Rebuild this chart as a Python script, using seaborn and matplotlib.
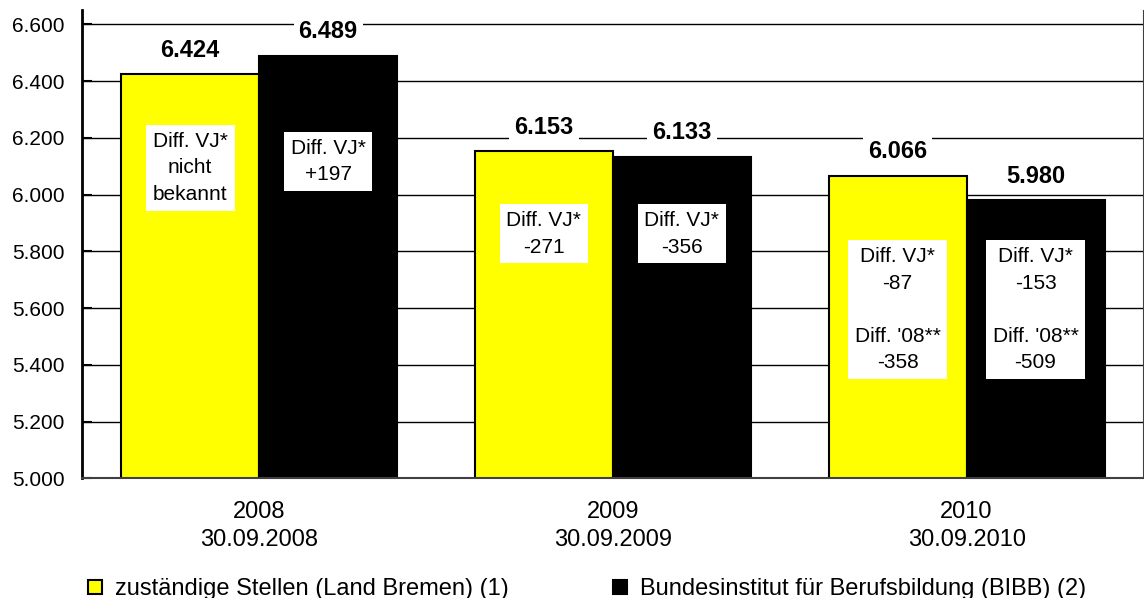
import pandas as pd
import matplotlib
matplotlib.use('Agg')
import matplotlib.pyplot as plt
from matplotlib.lines import Line2D
import seaborn as sns

years = ['2008\n30.09.2008', '2009\n30.09.2009', '2010\n30.09.2010']
sources = ['zuständige Stellen (Land Bremen) (1)', 'Bundesinstitut für Berufsbildung (BIBB) (2)']
stellen = [6424, 6153, 6066]
bibb = [6489, 6133, 5980]
notes_stellen = ['Diff. VJ*\nnicht\nbekannt', 'Diff. VJ*\n-271', "Diff. VJ*\n-87\n\nDiff. '08**\n-358"]
notes_bibb = ['Diff. VJ*\n+197', 'Diff. VJ*\n-356', "Diff. VJ*\n-153\n\nDiff. '08**\n-509"]
note_y = [[6094, 5862, 5594], [6117, 5862, 5594]]
colors = ['#FFFF00', '#000000']

df = pd.DataFrame({
    'Jahr': years * 2,
    'Quelle': [sources[0]] * 3 + [sources[1]] * 3,
    'Wert': stellen + bibb,
})

sns.set_style('white')
plt.rcParams['font.family'] = ['Liberation Sans', 'DejaVu Sans']
plt.rcParams['text.color'] = 'black'
plt.rcParams['xtick.color'] = 'black'
plt.rcParams['ytick.color'] = 'black'

fig, ax = plt.subplots(figsize=(11.44, 5.98), dpi=100)
fig.subplots_adjust(left=0.072, right=0.9995, top=0.983, bottom=0.2)

sns.barplot(data=df, x='Jahr', y='Wert', hue='Quelle', palette=colors, saturation=1,
            edgecolor='black', linewidth=1.5, width=0.78, ax=ax, legend=False, zorder=2)

ax.set_ylim(5000, 6650)
ax.set_xlim(-0.5, 2.5)
ax.set_yticks(range(5000, 6601, 200))
ax.set_yticklabels([f'{v:,}'.replace(',', '.') for v in range(5000, 6601, 200)], fontsize=15)
ax.tick_params(axis='x', labelsize=17, length=0, pad=16, labelcolor='black')
ax.tick_params(axis='y', length=7, width=1.5, color='black', direction='in', left=True, pad=13,
               labelcolor='black')
for lab in ax.get_xticklabels():
    lab.set_linespacing(1.4)
ax.yaxis.grid(True, color='black', linewidth=1, zorder=0)
ax.set_axisbelow(True)
ax.set_xlabel('')
ax.set_ylabel('')
ax.spines['top'].set_visible(False)
ax.spines['left'].set_linewidth(2)
ax.spines['left'].set_color('black')
ax.spines['bottom'].set_color('#404040')
ax.spines['bottom'].set_linewidth(1.5)
ax.spines['right'].set_color('#404040')

# Werte und Differenzen
for bars, vals, notes, ny in zip(ax.containers, [stellen, bibb], [notes_stellen, notes_bibb], note_y):
    for bar, v, note, y in zip(bars, vals, notes, ny):
        cx = bar.get_x() + bar.get_width() / 2
        ax.annotate(f'{v:,}'.replace(',', '.'), (cx, v), xytext=(0, 9), textcoords='offset points',
                    ha='center', va='bottom', fontsize=17, fontweight='bold', color='black', zorder=3,
                    bbox=dict(facecolor='white', edgecolor='none', pad=3.5))
        ax.text(cx, y, note, ha='center', va='center', fontsize=15, linespacing=1.5, color='black',
                zorder=3, bbox=dict(facecolor='white', edgecolor='none', pad=5))

for c, label, x0 in zip(colors, sources, [0.076, 0.535]):
    h = Line2D([], [], marker='s', linestyle='none', markersize=10.5, markerfacecolor=c,
               markeredgecolor='black', markeredgewidth=1.5)
    fig.legend([h], [label], loc='center left', bbox_to_anchor=(x0, 0.015), frameon=False,
               fontsize=17, handletextpad=0.5, handlelength=0.7, borderpad=0, borderaxespad=0,
               labelcolor='black')

plt.savefig('out.png', dpi=100)
